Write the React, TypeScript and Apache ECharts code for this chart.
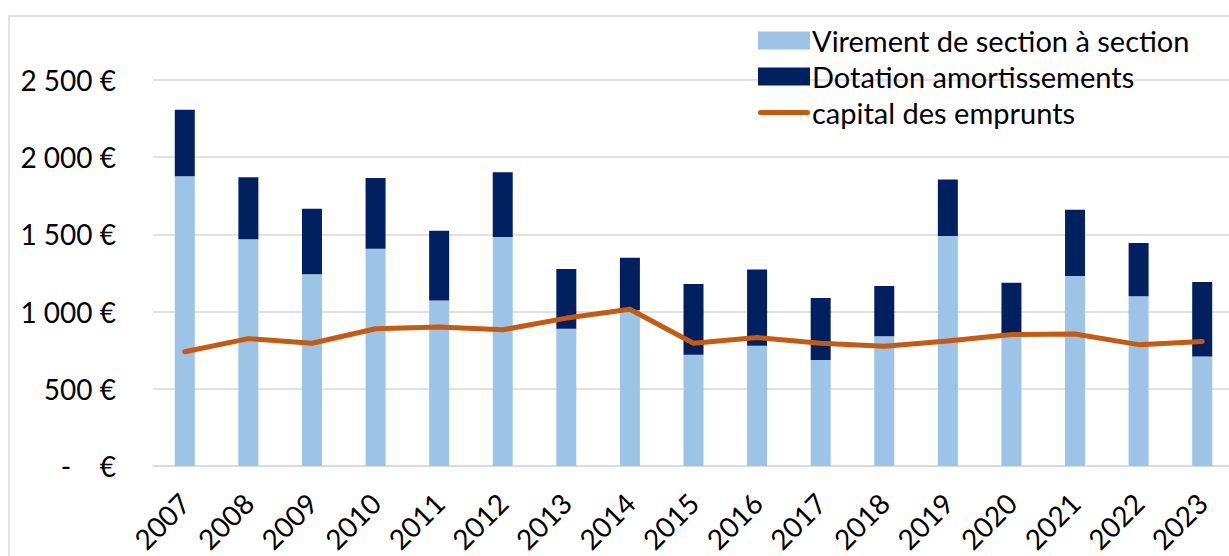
import React, { useEffect, useRef } from "react";
import * as echarts from "echarts";

const years = ["2007","2008","2009","2010","2011","2012","2013","2014","2015","2016","2017","2018","2019","2020","2021","2022","2023"];
const virement = [1877, 1469, 1242, 1407, 1072, 1483, 889, 1010, 720, 779, 687, 841, 1489, 850, 1231, 1100, 710];
const dotation = [430, 401, 424, 458, 452, 419, 387, 339, 459, 493, 401, 325, 367, 337, 428, 344, 482];
const capital = [740, 825, 795, 889, 900, 882, 958, 1015, 795, 832, 795, 775, 809, 852, 855, 786, 807];
const yTicks = { min: 0, max: 2500, interval: 500 };

const FONT = "Lato";

function fmtEuro(v: number): string {
  if (v === 0) return "-    €";
  const s = String(v).replace(/\B(?=(\d{3})+(?!\d))/g, " ");
  return s + " €";
}

export default function App() {
  const ref = useRef<HTMLDivElement>(null);
  useEffect(() => {
    document.body.style.margin = "0";
    if (!ref.current) return;
    const chart = echarts.init(ref.current, undefined, { renderer: "svg" });
    chart.setOption({
      animation: false,
      backgroundColor: "#ffffff",
      textStyle: { fontFamily: FONT },
      graphic: [
        {
          type: "rect",
          shape: { x: 9, y: 16, width: 1240, height: 560 },
          style: { fill: "none", stroke: "#D9D9D9", lineWidth: 1.5 },
          silent: true,
          z: -1,
        },
      ],
      grid: { left: 153, right: -5, top: 80, bottom: 90, containLabel: false, outerBoundsMode: "none" },
      legend: {
        left: 753,
        top: 21,
        orient: "vertical",
        itemWidth: 52,
        itemHeight: 18,
        itemGap: 7,
        textStyle: { fontFamily: FONT, fontSize: 29, color: "#000", padding: [0, 0, 0, -3] },
        data: [
          { name: "Virement de section à section", icon: "rect" },
          { name: "Dotation amortissements", icon: "rect" },
          {
            name: "capital des emprunts",
            icon: "path://M2.5,0 L49.5,0 A2.5,2.5 0 0 1 49.5,5 L2.5,5 A2.5,2.5 0 0 1 2.5,0 Z",
          },
        ],
      },
      xAxis: {
        type: "category",
        data: years,
        axisLine: { lineStyle: { color: "#D9D9D9", width: 1.5 } },
        axisTick: { show: false },
        axisLabel: {
          rotate: 45,
          fontFamily: FONT,
          fontSize: 28,
          color: "#000",
          margin: 32,
          interval: 0,
          align: "right",
          verticalAlign: "middle",
        },
      },
      yAxis: {
        type: "value",
        min: yTicks.min,
        max: yTicks.max,
        interval: yTicks.interval,
        axisLine: { show: false },
        axisTick: { show: false },
        splitLine: { lineStyle: { color: "#D9D9D9", width: 1.5 } },
        axisLabel: { fontFamily: FONT, fontSize: 28, color: "#000", margin: 37, formatter: fmtEuro },
      },
      series: [
        {
          name: "Virement de section à section",
          type: "bar",
          stack: "total",
          barWidth: 20,
          itemStyle: { color: "#9DC3E6" },
          data: virement,
        },
        {
          name: "Dotation amortissements",
          type: "bar",
          stack: "total",
          barWidth: 20,
          itemStyle: { color: "#002060" },
          data: dotation,
        },
        {
          name: "capital des emprunts",
          type: "line",
          symbol: "none",
          color: "#C55A11",
          lineStyle: { color: "#C55A11", width: 5, cap: "round", join: "round" },
          itemStyle: { color: "#C55A11" },
          data: capital,
          z: 5,
        },
      ],
    });
    return () => chart.dispose();
  }, []);
  return <div ref={ref} style={{ width: 1229, height: 556 }} />;
}
